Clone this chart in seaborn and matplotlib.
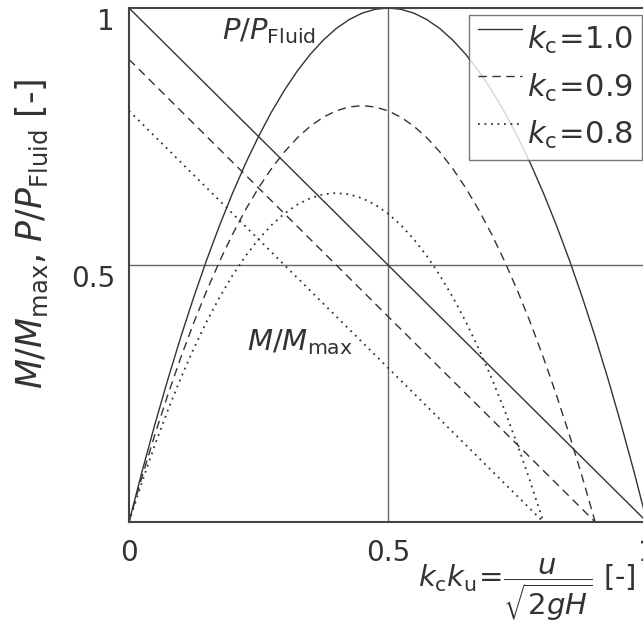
import matplotlib
matplotlib.use("Agg")
import matplotlib.pyplot as plt
from matplotlib.legend_handler import HandlerLine2D
import seaborn as sns

sns.set_theme(style="white")
plt.rcParams['font.family'] = ['DejaVu Sans']
plt.rcParams['mathtext.fontset'] = 'dejavusans'

# ---- data ----
x_p10 = [0.0, 0.025, 0.05, 0.075, 0.1, 0.125, 0.15, 0.175, 0.2, 0.225, 0.25,
         0.275, 0.3, 0.325, 0.35, 0.375, 0.4, 0.425, 0.45, 0.475, 0.5,
         0.525, 0.55, 0.575, 0.6, 0.625, 0.65, 0.675, 0.7, 0.725, 0.75,
         0.775, 0.8, 0.825, 0.85, 0.875, 0.9, 0.925, 0.95, 0.975, 1.0]
p_10 = [0.0, 0.0975, 0.19, 0.2775, 0.36, 0.4375, 0.51, 0.5775, 0.64, 0.6975, 0.75,
        0.7975, 0.84, 0.8775, 0.91, 0.9375, 0.96, 0.9775, 0.99, 0.9975, 1.0,
        0.9975, 0.99, 0.9775, 0.96, 0.9375, 0.91, 0.8775, 0.84, 0.7975, 0.75,
        0.6975, 0.64, 0.5775, 0.51, 0.4375, 0.36, 0.2775, 0.19, 0.0975, 0.0]
x_p09 = [0.0, 0.025, 0.05, 0.075, 0.1, 0.125, 0.15, 0.175, 0.2, 0.225, 0.25,
         0.275, 0.3, 0.325, 0.35, 0.375, 0.4, 0.425, 0.45, 0.475, 0.5,
         0.525, 0.55, 0.575, 0.6, 0.625, 0.65, 0.675, 0.7, 0.725, 0.75,
         0.775, 0.8, 0.825, 0.85, 0.875, 0.9]
p_09 = [0.0, 0.0875, 0.17, 0.2475, 0.32, 0.3875, 0.45, 0.5075, 0.56, 0.6075, 0.65,
        0.6875, 0.72, 0.7475, 0.77, 0.7875, 0.80, 0.8075, 0.81, 0.8075, 0.80,
        0.7875, 0.77, 0.7475, 0.72, 0.6875, 0.65, 0.6075, 0.56, 0.5075, 0.45,
        0.3875, 0.32, 0.2475, 0.17, 0.0875, 0.0]
x_p08 = [0.0, 0.025, 0.05, 0.075, 0.1, 0.125, 0.15, 0.175, 0.2, 0.225, 0.25,
         0.275, 0.3, 0.325, 0.35, 0.375, 0.4, 0.425, 0.45, 0.475, 0.5,
         0.525, 0.55, 0.575, 0.6, 0.625, 0.65, 0.675, 0.7, 0.725, 0.75,
         0.775, 0.8]
p_08 = [0.0, 0.0775, 0.15, 0.2175, 0.28, 0.3375, 0.39, 0.4375, 0.48, 0.5175, 0.55,
        0.5775, 0.60, 0.6175, 0.63, 0.6375, 0.64, 0.6375, 0.63, 0.6175, 0.60,
        0.5775, 0.55, 0.5175, 0.48, 0.4375, 0.39, 0.3375, 0.28, 0.2175, 0.15,
        0.0775, 0.0]
x_m10 = [0.0, 1.0]
m_10 = [1.0, 0.0]
x_m09 = [0.0, 0.9]
m_09 = [0.9, 0.0]
x_m08 = [0.0, 0.8]
m_08 = [0.8, 0.0]
legend_labels = [r"$k_{\rm c}\!=\!1.0$", r"$k_{\rm c}\!=\!0.9$", r"$k_{\rm c}\!=\!0.8$"]
xticks = [0, 0.5, 1]
xtick_labels = ["0", "0.5", "1"]
yticks = [0.5, 1]
ytick_labels = ["0.5", "1"]

W, H = 643, 635
fig = plt.figure(figsize=(W / 100, H / 100), dpi=100)
ax = fig.add_axes([129 / W, (H - 522) / H, 518 / W, 514 / H])

col = "#333333"
styles = ["-", (0, (6, 4)), (0, (1, 2.6))]
lws = [1.0, 1.0, 1.3]
series = [(x_p10, p_10, x_m10, m_10), (x_p09, p_09, x_m09, m_09), (x_p08, p_08, x_m08, m_08)]
handles = []
for (xp, yp, xm, ym), ls, lw in zip(series, styles, lws):
    sns.lineplot(x=xp, y=yp, ax=ax, color=col, linestyle=ls, lw=lw, sort=False, estimator=None)
    sns.lineplot(x=xm, y=ym, ax=ax, color=col, linestyle=ls, lw=lw, sort=False, estimator=None)
    handles.append(ax.lines[-1])

ax.axvline(0.5, color="#666666", lw=1.0, zorder=0)
ax.axhline(0.5, color="#666666", lw=1.0, zorder=0)

ax.set_xlim(0, 1)
ax.set_ylim(0, 1)
ax.set_xticks(xticks)
ax.set_xticklabels(xtick_labels)
ax.set_yticks(yticks)
ax.set_yticklabels(ytick_labels)
ax.tick_params(length=0, labelsize=20, colors=col)
ax.tick_params(axis="x", pad=12)
ax.tick_params(axis="y", pad=10)
for t in ax.get_yticklabels():
    t.set_va("top")
for s in ax.spines.values():
    s.set_color("#444444")
    s.set_linewidth(1.5)

ax.set_ylabel(r"$M/M_{\rm max}$, $P/P_{\rm Fluid}$ [-]", fontsize=25, color=col)
ax.yaxis.set_label_coords(-0.152, 0.56)
ax.set_xlabel("")

fig.text(527 / W, 1 - 590 / H, r"$k_{\rm c}k_{\rm u}\!=\!\dfrac{u}{\sqrt{2gH}}$ [-]",
         fontsize=21, color=col, ha="center", va="center")
ax.text(0.27, 0.955, r"$P/P_{\rm Fluid}$", fontsize=21, color=col, ha="center", va="center")
ax.text(0.33, 0.35, r"$M/M_{\rm max}$", fontsize=21, color=col, ha="center", va="center")


class RaisedHandler(HandlerLine2D):
    def create_artists(self, legend, orig_handle, xdescent, ydescent, width, height, fontsize, trans):
        arts = super().create_artists(legend, orig_handle, xdescent, ydescent, width, height, fontsize, trans)
        for a in arts:
            yd = a.get_ydata()
            a.set_ydata([v + 0.45 * height for v in yd])
        return arts


leg = ax.legend(handles, legend_labels, loc="upper right",
                bbox_to_anchor=(642 / W, 1 - 15 / H), bbox_transform=fig.transFigure,
                borderaxespad=0, fontsize=22, frameon=True, fancybox=False,
                handlelength=1.45, handletextpad=0.15, labelspacing=0.5, borderpad=0.3,
                handler_map={h: RaisedHandler() for h in handles})
leg.get_frame().set_edgecolor("#555555")
leg.get_frame().set_linewidth(1.0)
for t in leg.get_texts():
    t.set_color(col)

fig.savefig("out.png", dpi=100)
